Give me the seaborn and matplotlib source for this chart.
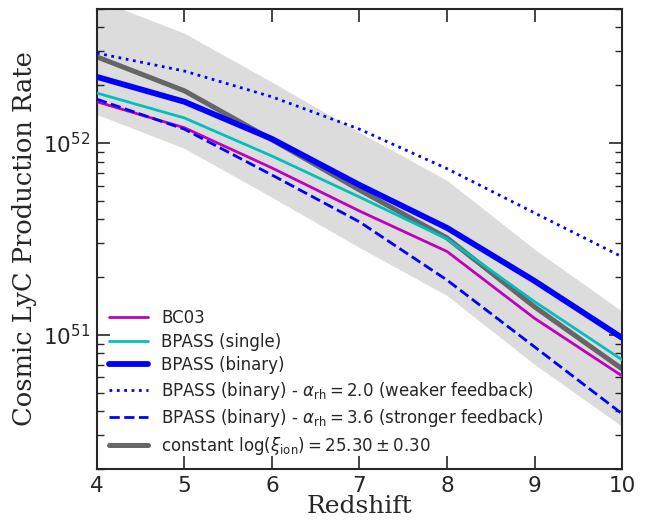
import numpy as np
import seaborn as sns
import matplotlib
matplotlib.use('Agg')
import matplotlib.pyplot as plt
from matplotlib import ticker

# Redshift grid
redshift = [4, 5, 6, 7, 8, 9, 10]

# Cosmic LyC production rate for each model
bc03 = [1.64e52, 1.20e52, 7.41e51, 4.42e51, 2.72e51, 1.22e51, 6.11e50]
bpass_single = [1.82e52, 1.35e52, 8.55e51, 5.23e51, 3.16e51, 1.49e51, 7.41e50]
bpass_binary = [2.21e52, 1.64e52, 1.05e52, 6.04e51, 3.61e51, 1.91e51, 9.65e50]
binary_weak = [2.94e52, 2.37e52, 1.74e52, 1.18e52, 7.35e51, 4.32e51, 2.55e51]
binary_strong = [1.69e52, 1.18e52, 6.81e51, 3.88e51, 1.93e51, 8.66e50, 3.88e50]
const_xi = [2.81e52, 1.87e52, 1.04e52, 5.69e51, 3.20e51, 1.40e51, 6.65e50]

# uncertainty on log(xi_ion) from the legend (dex)
xi_err = 0.30

sns.set_style('ticks')
plt.rcParams['font.family'] = ['DejaVu Sans']
plt.rcParams['mathtext.fontset'] = 'dejavusans'

fig, ax = plt.subplots(figsize=(6.46, 5.21), dpi=100)
fig.subplots_adjust(left=0.150, right=0.963, top=0.983, bottom=0.0998)

# shaded band around the constant xi_ion curve
lo = np.array(const_xi) * 10**(-xi_err)
hi = np.array(const_xi) * 10**(xi_err)
ax.fill_between(redshift, lo, hi, color='#dcdcdc', lw=0, zorder=0)

sns.lineplot(x=redshift, y=const_xi, color='#666666', lw=3.6, ax=ax, zorder=2,
             label=r'constant $\log(\xi_{\rm ion}) = 25.30 \pm 0.30$')
sns.lineplot(x=redshift, y=bc03, color='m', lw=2, ax=ax, zorder=3, label='BC03')
sns.lineplot(x=redshift, y=bpass_single, color='c', lw=2, ax=ax, zorder=3,
             label='BPASS (single)')
sns.lineplot(x=redshift, y=bpass_binary, color='b', lw=4.2, ax=ax, zorder=4,
             label='BPASS (binary)')
sns.lineplot(x=redshift, y=binary_weak, color='b', lw=2, ls=':', ax=ax, zorder=3,
             label=r'BPASS (binary) - $\alpha_{\rm rh} = 2.0$ (weaker feedback)')
sns.lineplot(x=redshift, y=binary_strong, color='b', lw=2, ls='--', ax=ax, zorder=3,
             label=r'BPASS (binary) - $\alpha_{\rm rh} = 3.6$ (stronger feedback)')

ax.set_yscale('log')
ax.set_xlim(4, 10)
ax.set_ylim(2e50, 5e52)

ax.set_xlabel('Redshift', family='DejaVu Serif', fontsize=18, labelpad=-1)
ax.set_ylabel('Cosmic LyC Production Rate', family='DejaVu Serif', fontsize=18.5, labelpad=4)

ax.tick_params(which='both', direction='in', top=True, right=True, labelsize=15.5)
ax.tick_params(which='major', length=9.5, width=1.2, pad=5)
ax.tick_params(which='minor', length=5, width=1)
ax.xaxis.set_major_locator(ticker.MultipleLocator(1))
for s in ax.spines.values():
    s.set_linewidth(1.5)

# legend in the original order
handles, labels = ax.get_legend_handles_labels()
order = [1, 2, 3, 4, 5, 0]
ax.legend([handles[i] for i in order], [labels[i] for i in order],
          loc='lower left', frameon=False, fontsize=12, handlelength=2.3,
          handletextpad=0.8, labelspacing=0.33, borderaxespad=0.35)

plt.savefig('out.png', dpi=100)
